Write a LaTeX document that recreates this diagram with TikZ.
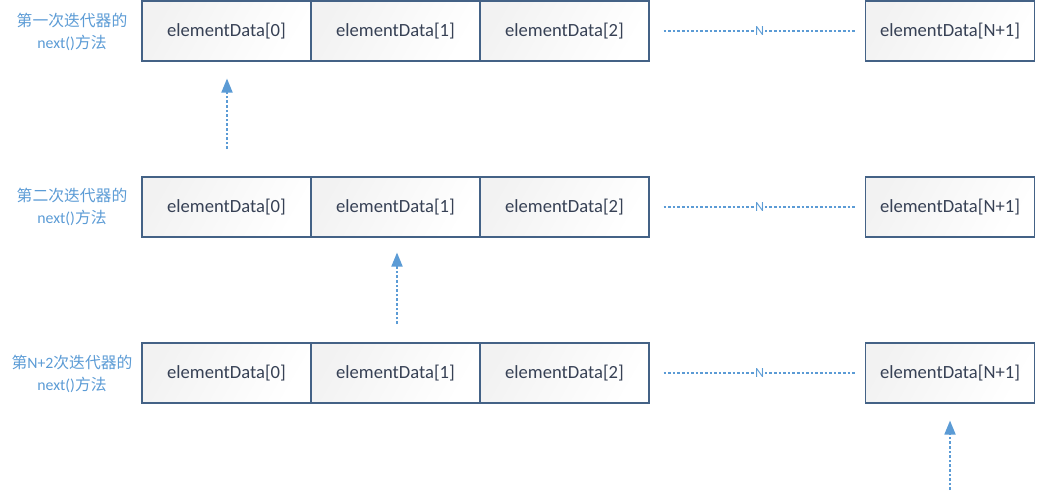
\documentclass[tikz,border=0pt]{standalone}
\usepackage{fontspec}
\setmainfont{Carlito}
\newfontfamily\cjk{Noto Sans CJK SC}
\usetikzlibrary{arrows.meta}
\definecolor{boxline}{RGB}{68,98,134}
\definecolor{boxtext}{RGB}{55,65,85}
\definecolor{lblue}{RGB}{91,155,213}
\tikzset{
  cell/.style={draw=boxline, line width=1.1pt, minimum width=169pt, minimum height=60pt, inner sep=0pt,
    left color=black!5, right color=white, shading angle=60,
    text=boxtext, font=\fontsize{18.6}{22}\selectfont},
  lbl/.style={text=lblue, align=center, font=\fontsize{15.8}{21.5}\selectfont},
  dotline/.style={draw=lblue, line width=1.8pt, dash pattern=on 2.6pt off 2pt},
  nlabel/.style={fill=white, inner sep=0.5pt, text=lblue, font=\fontsize{14}{14}\selectfont},
  arr/.style={draw=lblue, line width=1.8pt, dash pattern=on 2.6pt off 2pt,
    -{Triangle[length=14pt,width=11pt,fill=lblue]}},
}
\begin{document}
\begin{tikzpicture}[x=1pt,y=-1pt]
\useasboundingbox (0,0) rectangle (1038,492);
\foreach \r/\y in {1/31,2/207,3/373}{
  \node[cell] (r\r b0) at (226.5,\y) {elementData[0]};
  \node[cell] (r\r b1) at (395.5,\y) {elementData[1]};
  \node[cell] (r\r b2) at (564.5,\y) {elementData[2]};
  \node[cell] (r\r bN) at (950,\y) {elementData[N+1]};
  \draw[dotline] ([xshift=14pt]r\r b2.east) -- node[nlabel]{N} ([xshift=-9pt]r\r bN.west);
}
\node[lbl] (l1) at (72,32) {{\cjk 第一次迭代器的}\\next(){\cjk 方法}};
\node[lbl] (l2) at (72,207) {{\cjk 第二次迭代器的}\\next(){\cjk 方法}};
\node[lbl] (l3) at (72,374) {{\cjk 第}N+2{\cjk 次迭代器的}\\next(){\cjk 方法}};
\coordinate (s1) at (227,149);
\coordinate (s2) at (397,324);
\coordinate (s3) at (950,490);
\draw[arr, shorten >=17pt] (s1) -- (s1 |- r1b0.south);
\draw[arr, shorten >=15pt] (s2) -- (s2 |- r2b1.south);
\draw[arr, shorten >=17pt] (s3) -- (s3 |- r3bN.south);
\end{tikzpicture}
\end{document}
